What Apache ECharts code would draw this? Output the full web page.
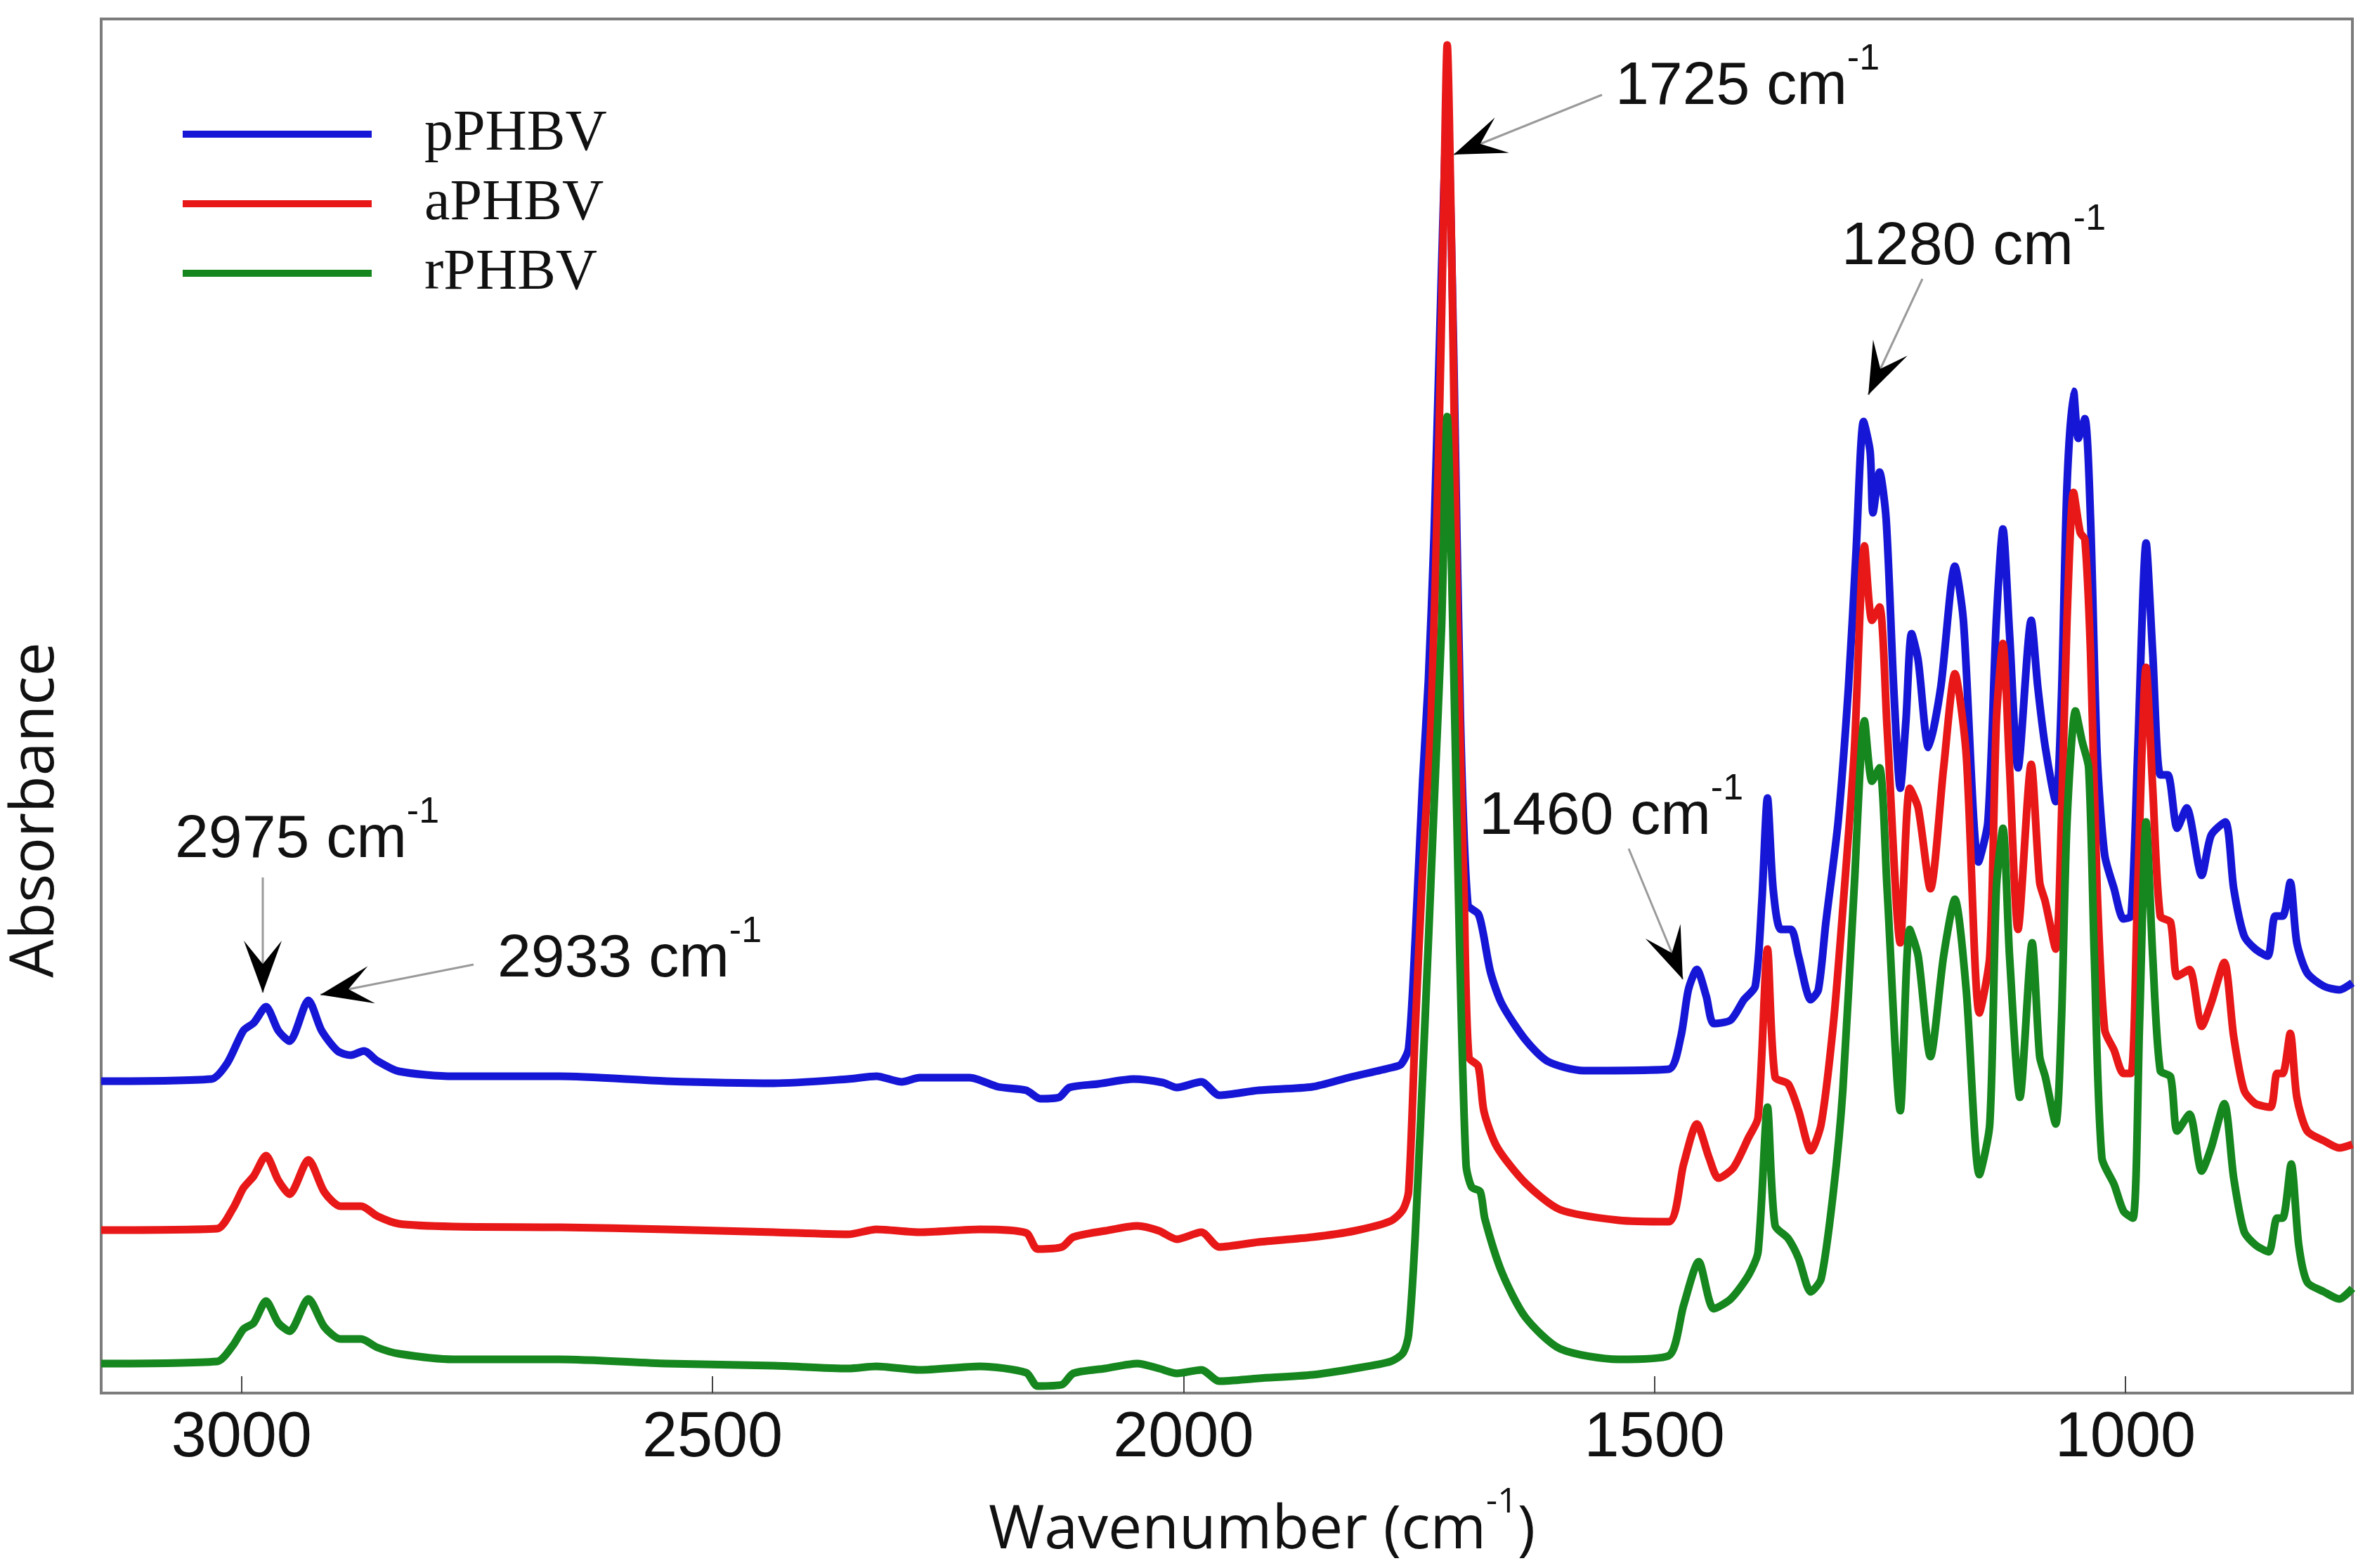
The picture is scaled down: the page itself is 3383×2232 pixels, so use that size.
<!DOCTYPE html>
<html>
<head>
<meta charset="utf-8">
<script src="https://cdn.jsdelivr.net/npm/echarts@6/dist/echarts.min.js"></script>
<style>
  html, body { margin: 0; padding: 0; background: #fff; }
  #mainChart { width: 3383px; height: 2232px; }
</style>
</head>
<body>
<div id="mainChart"></div>
<script>
// wavenumber (cm-1) and absorbance (a.u., stacked offsets as drawn)
var pWn = [3149,3032,3015,2998,2987,2974,2961,2949,2929,2915,
  2898,2884,2870,2856,2833,2775,2662,2549,2435,2356,
  2326,2299,2280,2227,2197,2167,2152,2132,2121,2091,
  2053,2022,2007,1981,1962,1920,1863,1825,1780,1769,
  1761,1754,1746,1740,1734,1726,1720,1713,1706,1698,
  1687,1682,1674,1662,1637,1613,1575,1485,1472,1464,
  1455,1445,1437,1419,1405,1393,1386,1380,1374,1366,
  1355,1347,1334,1326,1318,1305,1294,1286,1278,1271,
  1268,1261,1254,1246,1239,1233,1227,1220,1209,1196,
  1181,1172,1156,1146,1137,1130,1123,1114,1100,1093,
  1085,1074,1068,1062,1055,1050,1043,1037,1030,1022,
  1012,1002,994,987,978,971,963,955,945,935,
  919,909,894,885,874,862,849,841,833,825,
  818,807,789,773,759];
var pAbs = [0.444,0.447,0.470,0.516,0.527,0.550,0.516,0.501,0.559,0.516,
  0.487,0.481,0.487,0.473,0.458,0.451,0.451,0.444,0.441,0.447,
  0.451,0.443,0.449,0.449,0.436,0.431,0.419,0.421,0.435,0.440,
  0.447,0.442,0.435,0.443,0.424,0.431,0.436,0.449,0.463,0.468,
  0.491,0.644,0.873,1.014,1.218,1.600,1.833,1.473,0.963,0.695,
  0.682,0.656,0.599,0.554,0.503,0.472,0.459,0.461,0.507,0.574,
  0.603,0.565,0.526,0.531,0.560,0.579,0.699,0.847,0.718,0.660,
  0.660,0.622,0.560,0.574,0.670,0.813,1.005,1.196,1.383,1.340,
  1.253,1.311,1.244,1.005,0.861,0.957,1.081,1.043,0.919,1.005,
  1.177,1.100,0.756,0.813,1.100,1.230,1.081,0.890,1.100,1.005,
  0.919,0.842,0.986,1.292,1.426,1.359,1.387,1.244,0.909,0.766,
  0.718,0.675,0.679,0.909,1.210,1.053,0.880,0.880,0.804,0.833,
  0.737,0.794,0.813,0.718,0.651,0.632,0.622,0.679,0.679,0.727,
  0.641,0.598,0.579,0.574,0.584];

var aWn = [3149,3026,3009,2998,2987,2974,2961,2949,2929,2912,
  2895,2873,2856,2833,2775,2662,2549,2435,2356,2326,
  2280,2216,2167,2155,2129,2117,2083,2049,2026,2007,
  1981,1962,1920,1863,1818,1780,1767,1761,1754,1746,
  1737,1729,1724,1720,1715,1709,1702,1697,1687,1681,
  1667,1637,1600,1538,1485,1469,1455,1442,1432,1416,
  1400,1390,1380,1372,1358,1347,1334,1323,1310,1300,
  1288,1277,1269,1261,1253,1239,1229,1220,1207,1193,
  1181,1169,1155,1144,1137,1130,1123,1114,1100,1091,
  1085,1074,1068,1062,1055,1048,1043,1037,1030,1022,
  1012,1002,994,987,978,971,963,952,945,932,
  919,909,895,885,874,862,846,839,833,825,
  818,807,789,773,759];
var aAbs = [0.232,0.234,0.263,0.292,0.309,0.338,0.303,0.283,0.332,0.286,
  0.266,0.266,0.252,0.241,0.237,0.236,0.233,0.229,0.226,0.233,
  0.229,0.233,0.228,0.205,0.208,0.222,0.231,0.238,0.231,0.219,
  0.229,0.208,0.215,0.222,0.231,0.245,0.261,0.287,0.516,0.746,
  0.963,1.345,1.664,1.919,1.600,1.090,0.708,0.478,0.465,0.401,
  0.350,0.299,0.261,0.246,0.244,0.326,0.383,0.335,0.306,0.321,
  0.364,0.392,0.632,0.450,0.440,0.402,0.345,0.383,0.526,0.689,
  0.909,1.206,1.100,1.119,0.947,0.641,0.861,0.833,0.718,0.890,
  1.024,0.909,0.541,0.622,0.957,1.067,0.890,0.660,0.895,0.727,
  0.699,0.632,0.813,1.100,1.282,1.225,1.215,1.053,0.718,0.517,
  0.488,0.455,0.455,0.718,1.033,0.861,0.679,0.670,0.593,0.603,
  0.522,0.555,0.613,0.507,0.431,0.412,0.407,0.455,0.455,0.512,
  0.421,0.373,0.359,0.349,0.354];

var rWn = [3149,3026,3009,2998,2987,2974,2961,2949,2929,2912,
  2895,2873,2856,2833,2775,2662,2549,2435,2356,2326,
  2280,2216,2167,2155,2129,2117,2083,2049,2026,2007,
  1981,1962,1920,1863,1818,1780,1767,1761,1754,1744,
  1734,1726,1720,1714,1707,1700,1694,1685,1680,1662,
  1637,1600,1538,1485,1469,1453,1437,1419,1400,1390,
  1380,1372,1358,1347,1334,1323,1310,1300,1288,1277,
  1269,1261,1253,1239,1229,1220,1207,1193,1181,1169,
  1155,1144,1137,1130,1123,1112,1099,1091,1085,1074,
  1068,1062,1053,1046,1039,1033,1025,1012,1002,992,
  985,978,971,963,952,945,932,919,909,895,
  885,874,862,848,839,833,824,816,807,789,
  773,759];
var rAbs = [0.042,0.045,0.068,0.091,0.100,0.131,0.100,0.088,0.134,0.094,
  0.077,0.077,0.065,0.056,0.048,0.048,0.042,0.039,0.035,0.038,
  0.033,0.038,0.029,0.010,0.012,0.028,0.035,0.042,0.035,0.028,
  0.033,0.017,0.021,0.026,0.035,0.045,0.057,0.083,0.223,0.516,
  0.835,1.090,1.390,1.090,0.644,0.325,0.293,0.287,0.248,0.172,
  0.108,0.063,0.048,0.053,0.125,0.187,0.120,0.134,0.168,0.201,
  0.407,0.239,0.220,0.192,0.144,0.163,0.287,0.431,0.718,0.957,
  0.871,0.890,0.718,0.402,0.660,0.622,0.479,0.622,0.703,0.574,
  0.311,0.383,0.718,0.804,0.622,0.421,0.641,0.479,0.450,0.383,
  0.526,0.813,0.971,0.928,0.890,0.622,0.335,0.297,0.259,0.249,
  0.526,0.813,0.622,0.459,0.450,0.373,0.397,0.316,0.349,0.412,
  0.306,0.230,0.211,0.201,0.249,0.249,0.326,0.211,0.158,0.144,
  0.134,0.149];

var seriesNames = ['pPHBV', 'aPHBV', 'rPHBV'];
var seriesColors = ['#1616d6', '#e81818', '#16861e'];
var xTicks = [1000, 1500, 2000, 2500, 3000];

function pairs(xs, ys) {
  return xs.map(function (x, i) { return [x, ys[i]]; });
}

// peak labels: text, left x, middle y (px), arrow tail -> tip (px)
var notes = [
  { text: '1725 cm', x: 2299, y: 124, tail: [2280, 135], tip: [2069, 220] },
  { text: '1280 cm', x: 2621, y: 352, tail: [2736, 397], tip: [2659, 562] },
  { text: '1460 cm', x: 2105, y: 1163, tail: [2318, 1208], tip: [2395, 1394] },
  { text: '2975 cm', x: 249, y: 1196, tail: [374, 1249], tip: [374, 1413] },
  { text: '2933 cm', x: 708, y: 1366, tail: [674, 1373], tip: [456, 1416] }
];

function arrowHead(tail, tip) {
  var dx = tip[0] - tail[0], dy = tip[1] - tail[1];
  var len = Math.sqrt(dx * dx + dy * dy);
  var ux = dx / len, uy = dy / len;
  var nx = -uy, ny = ux;
  var L = 74, W = 27;
  return [
    [tip[0], tip[1]],
    [tip[0] - ux * L + nx * W, tip[1] - uy * L + ny * W],
    [tip[0] - ux * L * 0.55, tip[1] - uy * L * 0.55],
    [tip[0] - ux * L - nx * W, tip[1] - uy * L - ny * W]
  ];
}

var graphics = [];
notes.forEach(function (n) {
  graphics.push({
    type: 'line',
    shape: { x1: n.tail[0], y1: n.tail[1], x2: n.tip[0], y2: n.tip[1] },
    style: { stroke: '#9a9a9a', lineWidth: 3 },
    z: 100
  });
  graphics.push({
    type: 'polygon',
    shape: { points: arrowHead(n.tail, n.tip) },
    style: { fill: '#000' },
    z: 101
  });
  graphics.push({
    type: 'text',
    x: n.x, y: n.y,
    style: {
      text: '{a|' + n.text + '}{s|-1}',
      verticalAlign: 'middle',
      align: 'left',
      rich: {
        a: { fontFamily: 'Liberation Sans', fontSize: 86, lineHeight: 130, fill: '#111' },
        s: { fontFamily: 'Liberation Sans', fontSize: 52, verticalAlign: 'top', fill: '#111' }
      }
    },
    z: 102
  });
});

var chart = echarts.init(document.getElementById('mainChart'));

var option = {
  animation: false,
  backgroundColor: '#fff',
  grid: {
    left: 134, right: 35, top: 27, bottom: 249,
    show: true, borderColor: '#7c7c7c', borderWidth: 4
  },
  legend: {
    orient: 'vertical',
    left: 255, top: 145,
    icon: 'rect',
    itemWidth: 269, itemHeight: 10, itemGap: 17,
    data: seriesNames,
    textStyle: {
      fontFamily: 'Liberation Serif', fontSize: 82, lineHeight: 82,
      color: '#111', padding: [0, 0, 0, 70]
    }
  },
  xAxis: {
    type: 'value',
    min: 759, max: 3149,
    inverse: true,
    axisLine: { show: false },
    splitLine: { show: false },
    axisTick: {
      inside: true, length: 24, customValues: xTicks,
      lineStyle: { color: '#444', width: 2 }
    },
    axisLabel: {
      customValues: xTicks,
      formatter: function (v) { return String(v); },
      fontFamily: 'Liberation Sans', fontSize: 90, color: '#111', margin: 20
    },
    name: '{a|Wavenumber (cm}{s|-1}{a|)}',
    nameLocation: 'middle',
    nameGap: 131,
    nameTextStyle: {
      padding: [0, 0, 0, 100],
      rich: {
        a: { fontFamily: 'Open Sans', fontSize: 86, lineHeight: 130, color: '#111' },
        s: { fontFamily: 'Open Sans', fontSize: 50, verticalAlign: 'top', color: '#111' }
      }
    }
  },
  yAxis: {
    type: 'value',
    min: 0, max: 1.956,
    axisLine: { show: false },
    axisTick: { show: false },
    axisLabel: { show: false },
    splitLine: { show: false },
    name: 'Absorbance',
    nameLocation: 'middle',
    nameRotate: 90,
    nameGap: 50,
    nameTextStyle: {
      fontFamily: 'Open Sans', fontSize: 86, color: '#111',
      padding: [0, 296, 0, 0]
    }
  },
  series: [
    { name: seriesNames[0], type: 'line', data: pairs(pWn, pAbs) },
    { name: seriesNames[1], type: 'line', data: pairs(aWn, aAbs) },
    { name: seriesNames[2], type: 'line', data: pairs(rWn, rAbs) }
  ].map(function (s, i) {
    s.showSymbol = false;
    s.symbol = 'none';
    s.smooth = 0.25;
    s.lineStyle = { color: seriesColors[i], width: 11, join: 'round' };
    s.itemStyle = { color: seriesColors[i] };
    return s;
  }),
  graphic: graphics
};

chart.setOption(option);
</script>
</body>
</html>
